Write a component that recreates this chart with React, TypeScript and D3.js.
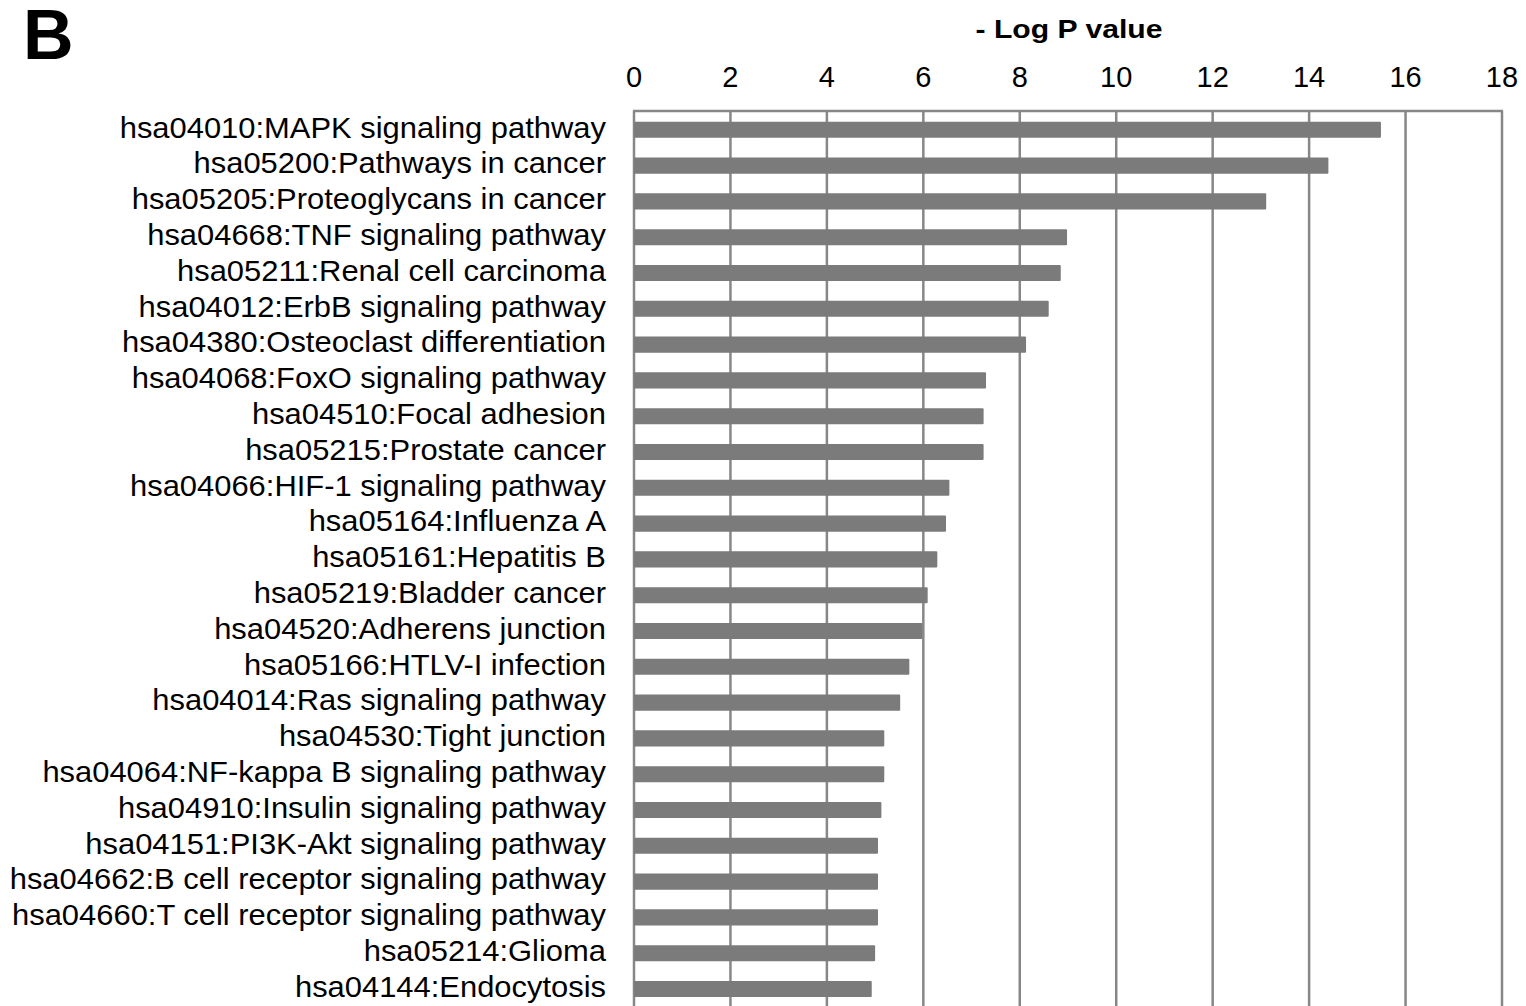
import * as d3 from "d3";

const pathways = [
    "hsa04010:MAPK signaling pathway",
    "hsa05200:Pathways in cancer",
    "hsa05205:Proteoglycans in cancer",
    "hsa04668:TNF signaling pathway",
    "hsa05211:Renal cell carcinoma",
    "hsa04012:ErbB signaling pathway",
    "hsa04380:Osteoclast differentiation",
    "hsa04068:FoxO signaling pathway",
    "hsa04510:Focal adhesion",
    "hsa05215:Prostate cancer",
    "hsa04066:HIF-1 signaling pathway",
    "hsa05164:Influenza A",
    "hsa05161:Hepatitis B",
    "hsa05219:Bladder cancer",
    "hsa04520:Adherens junction",
    "hsa05166:HTLV-I infection",
    "hsa04014:Ras signaling pathway",
    "hsa04530:Tight junction",
    "hsa04064:NF-kappa B signaling pathway",
    "hsa04910:Insulin signaling pathway",
    "hsa04151:PI3K-Akt signaling pathway",
    "hsa04662:B cell receptor signaling pathway",
    "hsa04660:T cell receptor signaling pathway",
    "hsa05214:Glioma",
    "hsa04144:Endocytosis",
];

const logP = [
    15.49, 14.4, 13.11, 8.98, 8.85, 8.6, 8.13, 7.3, 7.25, 7.25, 6.54, 6.47,
    6.29, 6.09, 5.98, 5.71, 5.52, 5.19, 5.19, 5.13, 5.06, 5.06, 5.06, 5.0,
    4.93,
];

const xTicks = [0, 2, 4, 6, 8, 10, 12, 14, 16, 18];

const App = () => {
    const width = 1526;
    const height = 1006;
    const left = 634;
    const right = 1502;
    const top = 111;
    const step = 35.8;
    const font = "Arial, 'Liberation Sans', Helvetica, sans-serif";

    const xScale = d3.scaleLinear().domain([0, 18]).range([left, right]);
    // first bar centre sits ~19px under the top frame line
    const y0 = top + 18.8 - step / 2;
    const yScale = d3
        .scaleBand()
        .domain(pathways)
        .range([y0, y0 + step * pathways.length])
        .paddingInner(0.55)
        .paddingOuter(0.275);

    const gridColor = "#878787";
    const barColor = "#7b7b7b";

    return (
        <svg
            width={width}
            height={height}
            style={{ position: "absolute", left: 0, top: 0, background: "#fff" }}
        >
            <text x={23} y={59} fontFamily={font} fontWeight="bold" fontSize={70}>
                B
            </text>
            <text
                transform={`translate(${(left + right) / 2 + 1}, 38) scale(1.16, 1)`}
                textAnchor="middle"
                fontFamily={font}
                fontWeight="bold"
                fontSize={26}
            >
                - Log P value
            </text>
            {xTicks.map((t) => (
                <text
                    key={`tick-${t}`}
                    x={xScale(t)}
                    y={87}
                    textAnchor="middle"
                    fontFamily={font}
                    fontSize={29}
                >
                    {t}
                </text>
            ))}
            <g>
                {xTicks.map((t) => (
                    <line
                        key={`grid-${t}`}
                        x1={xScale(t)}
                        x2={xScale(t)}
                        y1={top}
                        y2={height}
                        stroke={gridColor}
                        strokeWidth={2.5}
                    />
                ))}
                <line
                    x1={left - 1}
                    x2={right + 1}
                    y1={top}
                    y2={top}
                    stroke={gridColor}
                    strokeWidth={2.5}
                />
            </g>
            <g>
                {pathways.map((p, i) => (
                    <rect
                        key={`bar-${i}`}
                        x={xScale(0)}
                        y={yScale(p)}
                        width={xScale(logP[i]) - xScale(0)}
                        height={yScale.bandwidth()}
                        fill={barColor}
                        rx={1}
                    />
                ))}
            </g>
            <g>
                {pathways.map((p) => (
                    <text
                        key={`label-${p}`}
                        transform={`translate(606, ${
                            yScale(p) + yScale.bandwidth() / 2 + 7.8
                        }) scale(1.066, 1)`}
                        textAnchor="end"
                        fontFamily={font}
                        fontSize={29}
                    >
                        {p}
                    </text>
                ))}
            </g>
        </svg>
    );
};

export default App;
